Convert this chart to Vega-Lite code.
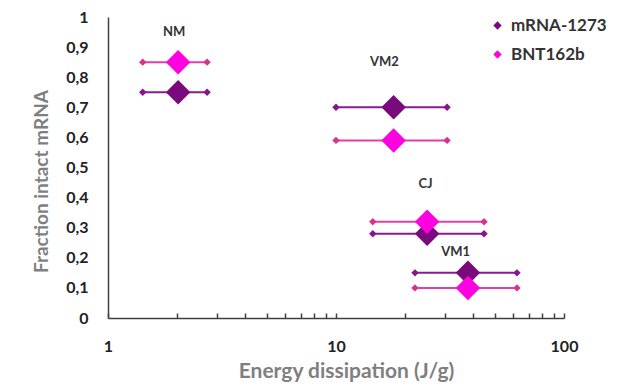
{
  "$schema": "https://vega.github.io/schema/vega-lite/v6.json",
  "width": 456,
  "height": 301,
  "autosize": "none",
  "padding": {"left": 108, "top": 17, "right": 67, "bottom": 70},
  "background": "white",
  "config": {
    "view": {"stroke": null},
    "font": "Lato",
    "axis": {"grid": false},
    "locale": {"number": {"decimal": ",", "thousands": ".", "grouping": [3], "currency": ["", " €"]}}
  },
  "datasets": {
    "pts": [
      {"site": "NM", "vaccine": "mRNA-1273", "energy": 2.03, "lo": 1.42, "hi": 2.72, "frac": 0.75},
      {"site": "NM", "vaccine": "BNT162b", "energy": 2.03, "lo": 1.42, "hi": 2.72, "frac": 0.85},
      {"site": "VM2", "vaccine": "mRNA-1273", "energy": 17.9, "lo": 10.0, "hi": 30.7, "frac": 0.70},
      {"site": "VM2", "vaccine": "BNT162b", "energy": 17.9, "lo": 10.0, "hi": 30.7, "frac": 0.59},
      {"site": "CJ", "vaccine": "mRNA-1273", "energy": 25.1, "lo": 14.5, "hi": 44.6, "frac": 0.28},
      {"site": "CJ", "vaccine": "BNT162b", "energy": 25.1, "lo": 14.5, "hi": 44.6, "frac": 0.32},
      {"site": "VM1", "vaccine": "mRNA-1273", "energy": 37.9, "lo": 22.2, "hi": 62.2, "frac": 0.15},
      {"site": "VM1", "vaccine": "BNT162b", "energy": 37.9, "lo": 22.2, "hi": 62.2, "frac": 0.10}
    ],
    "labels": [
      {"site": "NM", "x": 1.95, "y": 0.95},
      {"site": "VM2", "x": 16.3, "y": 0.85},
      {"site": "CJ", "x": 24.7, "y": 0.445},
      {"site": "VM1", "x": 33.5, "y": 0.22}
    ]
  },
  "resolve": {"scale": {"color": "independent"}},
  "encoding": {
    "y": {
      "field": "frac", "type": "quantitative",
      "scale": {"domain": [0, 1], "nice": false},
      "axis": {
        "title": "Fraction intact mRNA",
        "values": [0, 0.1, 0.2, 0.3, 0.4, 0.5, 0.6, 0.7, 0.8, 0.9, 1],
        "format": ".1~f",
        "labelOverlap": false,
        "labelFlush": false,
        "labelBound": false,
        "ticks": false,
        "domainColor": "#404040",
        "domainWidth": 1.5,
        "labelPadding": 20,
        "labelFont": "Lato",
        "labelFontSize": 16,
        "labelFontWeight": "bold",
        "labelColor": "#222222",
        "titleFont": "Lato",
        "titleFontSize": 19,
        "titleFontWeight": "bold",
        "titleColor": "#7f7f7f",
        "titlePadding": 14,
        "titleY": 164
      }
    }
  },
  "layer": [
    {
      "data": {"name": "pts"},
      "mark": {"type": "rule", "strokeWidth": 2},
      "encoding": {
        "x": {
          "field": "lo", "type": "quantitative",
          "scale": {"type": "log", "domain": [1, 100], "nice": false},
          "axis": {
            "title": "Energy dissipation (J/g)",
            "values": [1, 2, 3, 4, 5, 6, 7, 8, 9, 10, 20, 30, 40, 50, 60, 70, 80, 90, 100],
            "labelExpr": "datum.value == 1 || datum.value == 10 || datum.value == 100 ? datum.label : ''",
            "format": "d",
            "labelFlush": false,
            "labelOverlap": false,
            "tickSize": -5,
            "tickColor": "#404040",
            "tickWidth": 1.5,
            "domainColor": "#404040",
            "domainWidth": 1.5,
            "labelPadding": 25,
            "labelFont": "Lato",
            "labelFontSize": 16,
            "labelFontWeight": "bold",
            "labelColor": "#222222",
            "titleFont": "Lato",
            "titleFontSize": 21,
            "titleFontWeight": "bold",
            "titleColor": "#7f7f7f",
            "titlePadding": 6,
            "titleX": 238
          }
        },
        "x2": {"field": "hi"},
        "color": {
          "field": "vaccine", "type": "nominal",
          "scale": {"domain": ["mRNA-1273", "BNT162b"], "range": ["#8a1a94", "#e040a6"]},
          "legend": null
        }
      }
    },
    {
      "data": {"name": "pts"},
      "mark": {"type": "point", "shape": "diamond", "filled": true, "opacity": 1, "size": 55},
      "encoding": {
        "x": {"field": "lo", "type": "quantitative"},
        "color": {
          "field": "vaccine", "type": "nominal",
          "scale": {"domain": ["mRNA-1273", "BNT162b"], "range": ["#851590", "#d8338c"]},
          "legend": null
        }
      }
    },
    {
      "data": {"name": "pts"},
      "mark": {"type": "point", "shape": "diamond", "filled": true, "opacity": 1, "size": 55},
      "encoding": {
        "x": {"field": "hi", "type": "quantitative"},
        "color": {
          "field": "vaccine", "type": "nominal",
          "scale": {"domain": ["mRNA-1273", "BNT162b"], "range": ["#851590", "#d8338c"]},
          "legend": null
        }
      }
    },
    {
      "data": {"name": "pts"},
      "mark": {"type": "point", "shape": "diamond", "filled": true, "opacity": 1, "size": 600},
      "encoding": {
        "x": {"field": "energy", "type": "quantitative"},
        "color": {
          "field": "vaccine", "type": "nominal",
          "scale": {"domain": ["mRNA-1273", "BNT162b"], "range": ["#7a0a7c", "#ff00e0"]},
          "legend": {
            "title": null,
            "orient": "none",
            "legendX": 381,
            "legendY": 0,
            "symbolType": "diamond",
            "symbolSize": 70,
            "symbolOpacity": 1,
            "rowPadding": 11,
            "labelFont": "Lato",
            "labelFontSize": 17,
            "labelFontWeight": "bold",
            "labelColor": "#333333",
            "labelOffset": 5
          }
        }
      }
    },
    {
      "data": {"name": "labels"},
      "mark": {"type": "text", "font": "Lato", "fontSize": 13, "fontWeight": "bold", "color": "#333333"},
      "encoding": {
        "x": {"field": "x", "type": "quantitative"},
        "y": {"field": "y", "type": "quantitative"},
        "text": {"field": "site"}
      }
    }
  ]
}
